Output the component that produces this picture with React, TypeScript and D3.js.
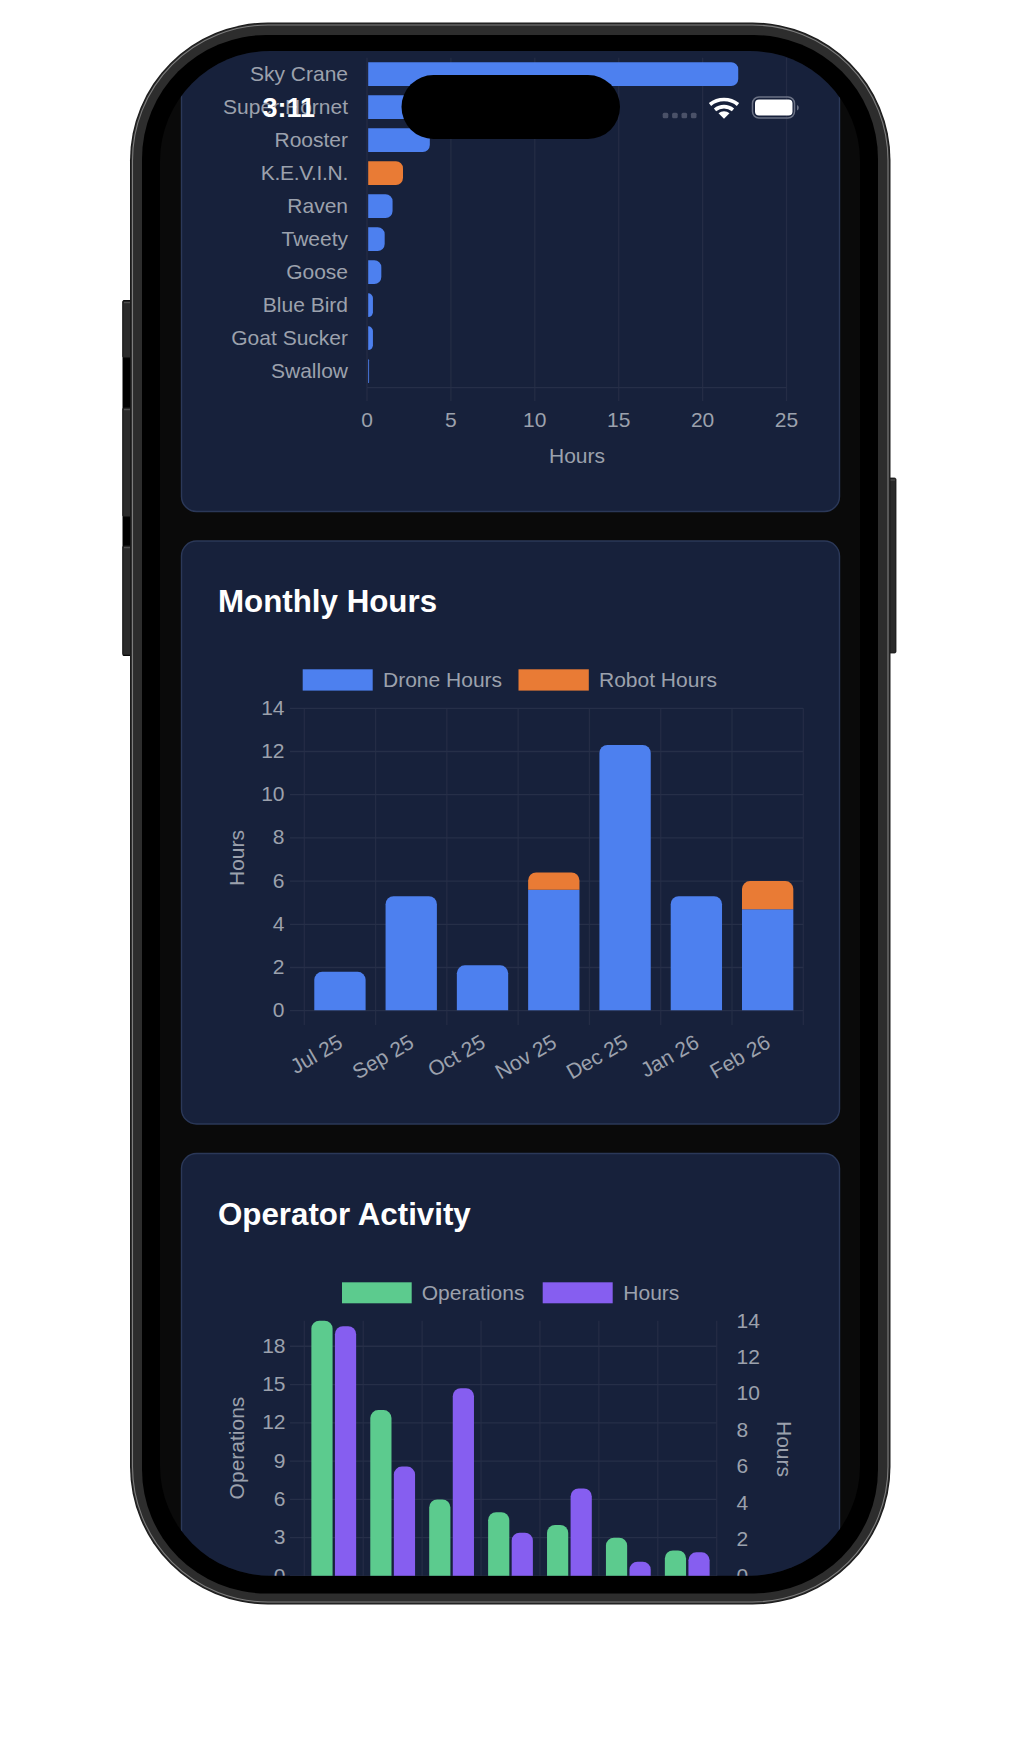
import React from "react";
import * as d3 from "d3";

// ---------- data ----------
const vehicles = ["Sky Crane", "Super Hornet", "Rooster", "K.E.V.I.N.", "Raven", "Tweety", "Goose", "Blue Bird", "Goat Sucker", "Swallow"];
const vehicleHours = [22.1, 5.2, 3.72, 2.12, 1.5, 1.03, 0.83, 0.33, 0.33, 0.1];
const vehicleIsRobot = [false, false, false, true, false, false, false, false, false, false];
const hourTicks = [0, 5, 10, 15, 20, 25];

const months = ["Jul 25", "Sep 25", "Oct 25", "Nov 25", "Dec 25", "Jan 26", "Feb 26"];
const droneHours = [1.8, 5.3, 2.1, 5.6, 12.3, 5.3, 4.7];
const robotHours = [0, 0, 0, 0.8, 0, 0, 1.3];
const monthTicks = [0, 2, 4, 6, 8, 10, 12, 14];

const operators = ["A", "B", "C", "D", "E", "F", "G"];
const operations = [20, 13, 6, 5, 4, 3, 2];
const operatorHours = [13.7, 6.0, 10.3, 2.37, 4.8, 0.78, 1.3];
const opsTicks = [0, 3, 6, 9, 12, 15, 18];
const opHourTicks = [0, 2, 4, 6, 8, 10, 12, 14];

// ---------- style ----------
const FONT = "'Liberation Sans', Arial, sans-serif";
const TEXT = "#9ca1ad";
const GRID = "#262f48";
const GRID_V = "#242c45";
const CARD = "#17213b";
const CARD_BORDER = "#2b3858";
const BLUE = "#4d80ef";
const ORANGE = "#e97b35";
const GREEN = "#5ccb8e";
const PURPLE = "#865ef0";
const FS = 21;

// bar shapes with selectively rounded corners
function roundedH(x0: number, x1: number, y0: number, y1: number, r: number) {
  const rr = Math.min(r, Math.max(0, x1 - x0), (y1 - y0) / 2);
  const p = d3.path();
  p.moveTo(x0, y0);
  p.lineTo(x1 - rr, y0);
  p.arcTo(x1, y0, x1, y0 + rr, rr);
  p.lineTo(x1, y1 - rr);
  p.arcTo(x1, y1, x1 - rr, y1, rr);
  p.lineTo(x0, y1);
  p.closePath();
  return p.toString();
}
function roundedV(x0: number, x1: number, top: number, bottom: number, r: number) {
  const rr = Math.min(r, Math.max(0, bottom - top), (x1 - x0) / 2);
  const p = d3.path();
  p.moveTo(x0, bottom);
  p.lineTo(x0, top + rr);
  if (rr > 0) p.arcTo(x0, top, x0 + rr, top, rr);
  p.lineTo(x1 - rr, top);
  if (rr > 0) p.arcTo(x1, top, x1, top + rr, rr);
  p.lineTo(x1, bottom);
  p.closePath();
  return p.toString();
}

function T(props: any) {
  return <text fontFamily={FONT} fontSize={FS} fill={TEXT} dominantBaseline="central" {...props} />;
}

function VehicleChart() {
  const x = d3.scaleLinear().domain([0, 25]).range([367, 786.5]);
  const y = d3.scaleBand().domain(vehicles).range([57.7, 387.7]).paddingInner(0).paddingOuter(0);
  const h = y.bandwidth() * 0.72;
  return (
    <g>
      {hourTicks.map((t) => (
        <line key={t} x1={x(t)} x2={x(t)} y1={57.7} y2={401} stroke={GRID_V} strokeWidth={1.3} />
      ))}
      <line x1={367} x2={786.5} y1={387.7} y2={387.7} stroke={GRID} strokeWidth={1.3} />
      {vehicles.map((v, i) => {
        const c = y(v)! + y.bandwidth() / 2;
        return (
          <g key={v}>
            <path d={roundedH(x(0) + 1.2, x(vehicleHours[i]) + 0.4, c - h / 2, c + h / 2, 7)} fill={vehicleIsRobot[i] ? ORANGE : BLUE} />
            <T x={348} y={c - 1} textAnchor="end" letterSpacing={v === "K.E.V.I.N." ? -0.3 : 0}>{v}</T>
          </g>
        );
      })}
      {hourTicks.map((t) => (
        <T key={t} x={x(t)} y={419} textAnchor="middle">{t}</T>
      ))}
      <T x={577} y={455.5} textAnchor="middle">Hours</T>
    </g>
  );
}

function MonthlyChart() {
  const x = d3.scaleBand().domain(months).range([304.3, 803.3]);
  const y = d3.scaleLinear().domain([0, 14]).range([1010.7, 708.3]);
  const w = x.bandwidth() * 0.72;
  return (
    <g>
      {d3.range(0, 8).map((i) => {
        const px = 304.3 + i * x.bandwidth();
        return <line key={i} x1={px} x2={px} y1={708.3} y2={1025} stroke={GRID_V} strokeWidth={1.3} />;
      })}
      {monthTicks.map((t) => (
        <g key={t}>
          <line x1={290} x2={803.3} y1={y(t)} y2={y(t)} stroke={GRID} strokeWidth={1.3} />
          <T x={284.5} y={y(t) - 1} textAnchor="end">{t}</T>
        </g>
      ))}
      {months.map((m, i) => {
        const c = x(m)! + x.bandwidth() / 2;
        const x0 = c - w / 2;
        const x1 = c + w / 2;
        const hasRobot = robotHours[i] > 0;
        const ax = c + 0.5;
        const ay = 1040;
        return (
          <g key={m}>
            <path d={roundedV(x0, x1, y(droneHours[i]), y(0) - 0.5, hasRobot ? 0 : 8)} fill={BLUE} />
            {hasRobot && (
              <path d={roundedV(x0, x1, y(droneHours[i] + robotHours[i]), y(droneHours[i]), 8)} fill={ORANGE} />
            )}
            <T x={ax} y={ay} textAnchor="end" transform={`rotate(-30 ${ax} ${ay})`}>{m}</T>
          </g>
        );
      })}
      <T x={236} y={858} textAnchor="middle" transform="rotate(-90 236 858)">Hours</T>
      <rect x={302.7} y={669.3} width={70} height={21.3} fill={BLUE} />
      <T x={383} y={679.3}>Drone Hours</T>
      <rect x={518.5} y={669.3} width={70.3} height={21.3} fill={ORANGE} />
      <T x={599} y={679.3}>Robot Hours</T>
    </g>
  );
}

function OperatorChart() {
  const x = d3.scaleBand().domain(operators).range([304.3, 716.7]);
  const yOps = d3.scaleLinear().domain([0, 20]).range([1576, 1320.7]);
  const yH = d3.scaleLinear().domain([0, 14]).range([1576, 1320.7]);
  const w = (x.bandwidth() * 0.8) / 2;
  const barW = w * 0.9;
  return (
    <g>
      {d3.range(0, 8).map((i) => {
        const px = 304.3 + i * x.bandwidth();
        return <line key={i} x1={px} x2={px} y1={1320.7} y2={1590} stroke={GRID_V} strokeWidth={1.3} />;
      })}
      {opsTicks.map((t) => (
        <g key={t}>
          <line x1={290} x2={716.7} y1={yOps(t)} y2={yOps(t)} stroke={GRID} strokeWidth={1.3} />
          <T x={285.5} y={yOps(t) - 1} textAnchor="end">{t}</T>
        </g>
      ))}
      {opHourTicks.map((t) => (
        <T key={t} x={736.5} y={yH(t) - 0.7}>{t}</T>
      ))}
      {operators.map((o, i) => {
        const c = x(o)! + x.bandwidth() / 2;
        const gc = c - w / 2;
        const pc = c + w / 2;
        return (
          <g key={o}>
            <path d={roundedV(gc - barW / 2, gc + barW / 2, yOps(operations[i]), 1590, 8)} fill={GREEN} />
            <path d={roundedV(pc - barW / 2, pc + barW / 2, yH(operatorHours[i]), 1590, 8)} fill={PURPLE} />
          </g>
        );
      })}
      <T x={236} y={1448} textAnchor="middle" transform="rotate(-90 236 1448)">Operations</T>
      <T x={784.5} y={1449} textAnchor="middle" transform="rotate(90 784.5 1449)">Hours</T>
      <rect x={342} y={1282.3} width={69.7} height={21} fill={GREEN} />
      <T x={421.7} y={1292.3}>Operations</T>
      <rect x={542.7} y={1282.3} width={70} height={21} fill={PURPLE} />
      <T x={623.3} y={1292.3}>Hours</T>
    </g>
  );
}

function Phone() {
  const buttons = [[300.7, 357.7], [407.7, 516.7], [545.7, 655]];
  return (
    <g>
      {/* side buttons */}
      <rect x={122.5} y={300} width={12} height={356} rx={1.5} fill="#000" />
      {buttons.map(([a, b]) => (
        <g key={a}>
          <rect x={122.8} y={a} width={11} height={b - a} rx={1.5} fill="#2a2a2a" stroke="#111" strokeWidth={0.8} />
          <line x1={124} x2={133} y1={a + 2} y2={a + 2} stroke="#555" strokeWidth={1} />
        </g>
      ))}
      <rect x={885} y={478} width={11} height={175} rx={1.5} fill="#2a2a2a" stroke="#111" strokeWidth={0.8} />
      <line x1={888} x2={895} y1={480} y2={480} stroke="#555" strokeWidth={1} />
      {/* body */}
      <rect x={130} y={22.5} width={760.5} height={1582} rx={138} fill="#1a1a1a" />
      <rect x={131} y={23.5} width={758.5} height={1580} rx={137} fill="#2d2d2d" />
      <rect x={132.5} y={25} width={755.5} height={1577} rx={135.5} fill="none" stroke="#7d7d7d" strokeWidth={1.1} />
      <rect x={142} y={35} width={736} height={1558.5} rx={124} fill="#000" />
    </g>
  );
}

export default function App() {
  return (
    <svg
      width={1020}
      height={1756}
      viewBox="0 0 1020 1756"
      style={{ position: "absolute", left: 0, top: 0, display: "block", background: "#fff" }}
    >
      <defs>
        <clipPath id="screen">
          <rect x={160} y={51} width={700} height={1524.7} rx={110} />
        </clipPath>
      </defs>
      <Phone />
      <g clipPath="url(#screen)">
        <rect x={160} y={51} width={700} height={1525} fill="#0a0a0a" />
        {/* cards */}
        <rect x={181.5} y={-40} width={658} height={551.5} rx={15} fill={CARD} stroke={CARD_BORDER} strokeWidth={1.4} />
        <rect x={181.5} y={541} width={658} height={583} rx={15} fill={CARD} stroke={CARD_BORDER} strokeWidth={1.4} />
        <rect x={181.5} y={1153.5} width={658} height={600} rx={15} fill={CARD} stroke={CARD_BORDER} strokeWidth={1.4} />
        <text x={218} y={601} fontFamily={FONT} fontSize={31.3} fontWeight={700} fill="#fff" dominantBaseline="central">Monthly Hours</text>
        <text x={218} y={1214} fontFamily={FONT} fontSize={31.3} fontWeight={700} fill="#fff" dominantBaseline="central">Operator Activity</text>
        <VehicleChart />
        <MonthlyChart />
        <OperatorChart />
      </g>
      {/* status bar */}
      <rect x={401.5} y={75} width={218.5} height={64} rx={32} fill="#000" />
      <text x={262.5} y={107.5} fontFamily={FONT} fontSize={27} fontWeight={700} fill="#fff" dominantBaseline="central">3:11</text>
      {[0, 1, 2, 3].map((i) => (
        <rect key={i} x={662.7 + i * 9.4} y={112.7} width={5.6} height={5.6} rx={1.5} fill="#4a5168" />
      ))}
      <g fill="none" stroke="#fff" strokeWidth={3.6} strokeLinecap="butt">
        <path d="M710 104.5 A 22 22 0 0 1 738 104.5" />
        <path d="M715 109.8 A 14.5 14.5 0 0 1 733 109.8" />
      </g>
      <path d="M718.5 113.2 A 8.5 8.5 0 0 1 729.5 113.2 L724 118.8 Z" fill="#fff" />
      <rect x={752.5} y={97} width={42} height={21} rx={6.5} fill="none" stroke="#6b7285" strokeWidth={1.5} />
      <rect x={755} y={99.5} width={37.5} height={16} rx={4} fill="#fff" />
      <path d="M797 105 A 3 3 0 0 1 797 110.5 Z" fill="#6b7285" />
    </svg>
  );
}
